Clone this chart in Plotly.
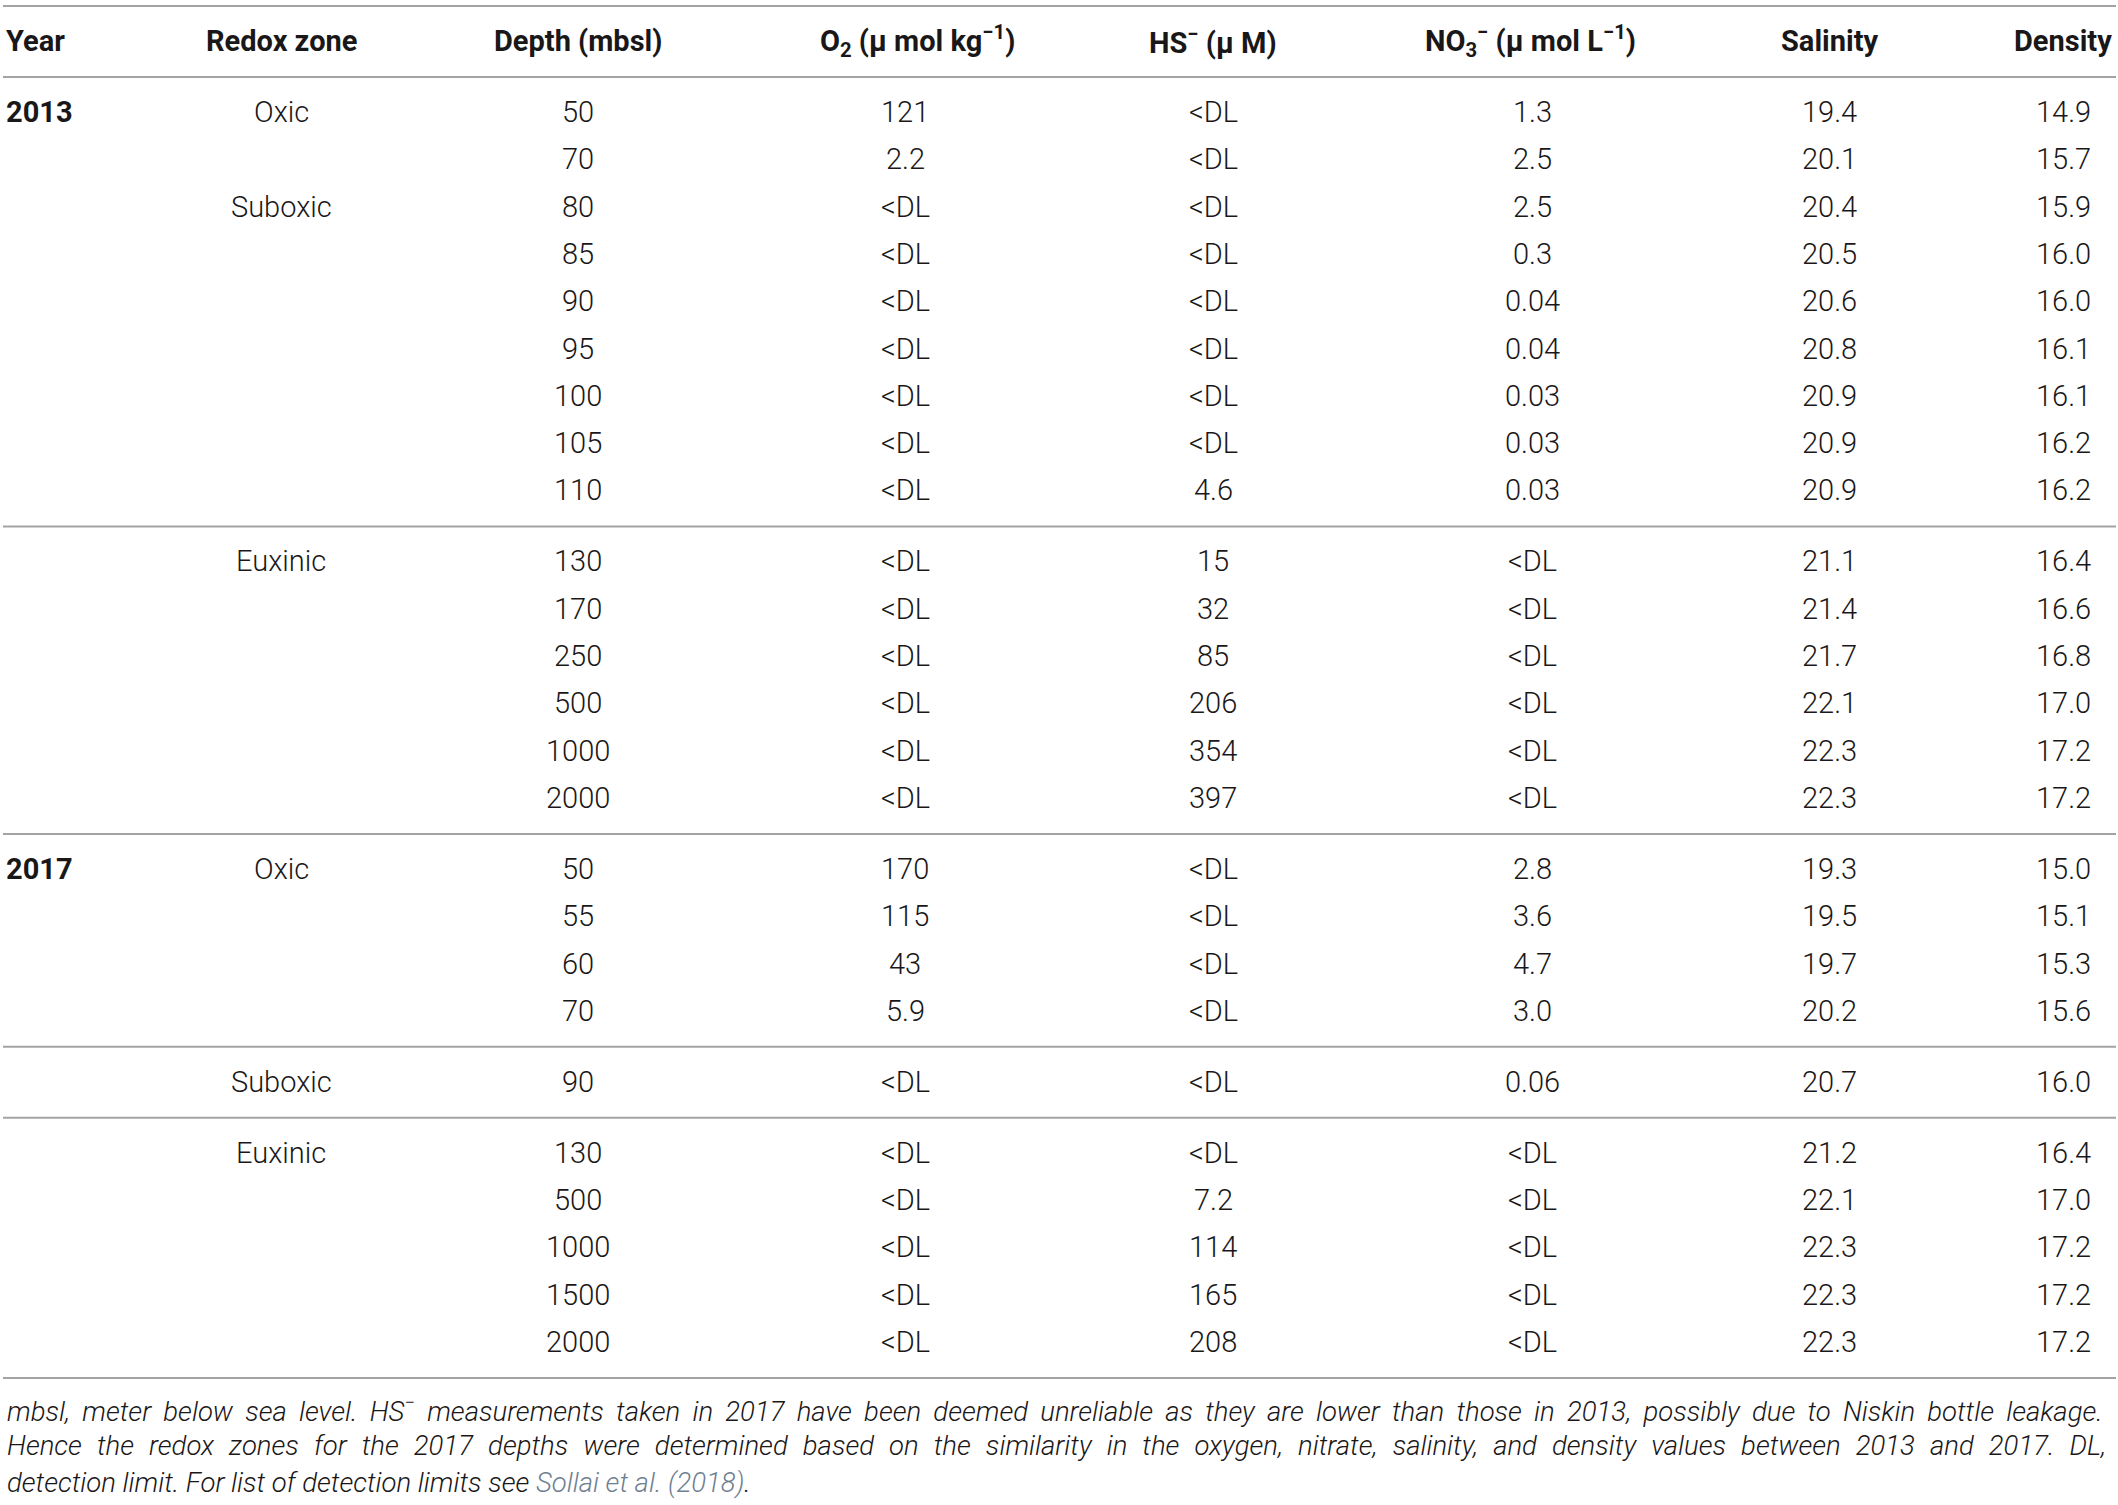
import plotly.graph_objects as go

# ---------------- data ----------------
headers = ["Year", "Redox zone", "Depth (mbsl)", "O<sub>2</sub> (\u03bc mol kg<sup>\u22121</sup>)",
           "HS<sup>\u2212</sup> (\u03bc M)", "NO<sub>3</sub><sup>\u2212</sup> (\u03bc mol L<sup>\u22121</sup>)",
           "Salinity", "Density"]

years = ["2013", "2013", "2017", "2017", "2017"]          # per group
zones = [["Oxic", "", "Suboxic", "", "", "", "", "", ""],
         ["Euxinic", "", "", "", "", ""],
         ["Oxic", "", "", ""],
         ["Suboxic"],
         ["Euxinic", "", "", "", ""]]
year_shown = [True, False, True, False, False]

depth = [["50", "70", "80", "85", "90", "95", "100", "105", "110"],
         ["130", "170", "250", "500", "1000", "2000"],
         ["50", "55", "60", "70"],
         ["90"],
         ["130", "500", "1000", "1500", "2000"]]
o2 = [["121", "2.2", "<DL", "<DL", "<DL", "<DL", "<DL", "<DL", "<DL"],
      ["<DL", "<DL", "<DL", "<DL", "<DL", "<DL"],
      ["170", "115", "43", "5.9"],
      ["<DL"],
      ["<DL", "<DL", "<DL", "<DL", "<DL"]]
hs = [["<DL", "<DL", "<DL", "<DL", "<DL", "<DL", "<DL", "<DL", "4.6"],
      ["15", "32", "85", "206", "354", "397"],
      ["<DL", "<DL", "<DL", "<DL"],
      ["<DL"],
      ["<DL", "7.2", "114", "165", "208"]]
no3 = [["1.3", "2.5", "2.5", "0.3", "0.04", "0.04", "0.03", "0.03", "0.03"],
       ["<DL", "<DL", "<DL", "<DL", "<DL", "<DL"],
       ["2.8", "3.6", "4.7", "3.0"],
       ["0.06"],
       ["<DL", "<DL", "<DL", "<DL", "<DL"]]
salinity = [["19.4", "20.1", "20.4", "20.5", "20.6", "20.8", "20.9", "20.9", "20.9"],
            ["21.1", "21.4", "21.7", "22.1", "22.3", "22.3"],
            ["19.3", "19.5", "19.7", "20.2"],
            ["20.7"],
            ["21.2", "22.1", "22.3", "22.3", "22.3"]]
density = [["14.9", "15.7", "15.9", "16.0", "16.0", "16.1", "16.1", "16.2", "16.2"],
           ["16.4", "16.6", "16.8", "17.0", "17.2", "17.2"],
           ["15.0", "15.1", "15.3", "15.6"],
           ["16.0"],
           ["16.4", "17.0", "17.2", "17.2", "17.2"]]

footer = [
    "mbsl, meter below sea level. HS<sup>\u2212</sup> measurements taken in 2017 have been deemed unreliable as they are lower than those in 2013, possibly due to Niskin bottle leakage.",
    "Hence the redox zones for the 2017 depths were determined based on the similarity in the oxygen, nitrate, salinity, and density values between 2013 and 2017. DL,",
    "detection limit. For list of detection limits see <span style='color:#6f7f92'>Sollai et al. (2018)</span>.",
]

# ---------------- layout ----------------
W, H = 2118, 1505
col_x = [6, 281, 578, 905, 1213, 1532, 1829, 2063]
head_x = [4, 281, 578, 917, 1213, 1530, 1829, 2063]
pitch = 47.3
TEXT = "#1a1718"
LINE = "#a3a3a3"
body_font = dict(family="Roboto", size=29, color=TEXT, weight=300)
head_font = dict(family="Roboto", size=29, color=TEXT, weight=700)

annotations = []
shapes = []

def hline(y):
    shapes.append(dict(type="line", xref="x", yref="y", x0=3, x1=W - 2, y0=y, y1=y,
                       line=dict(color=LINE, width=2)))

hline(6)
for i, h in enumerate(headers):
    annotations.append(dict(x=head_x[i], y=41, text=h, showarrow=False, xref="x", yref="y",
                            xanchor="left" if i == 0 else "center", yanchor="middle", font=head_font))
hline(77)

y_line = 77
for g in range(len(depth)):
    y0 = y_line + 35
    for r in range(len(depth[g])):
        y = y0 + r * pitch
        if r == 0 and year_shown[g]:
            annotations.append(dict(x=col_x[0] - 2, y=y, text=years[g], showarrow=False, xref="x", yref="y",
                                    xanchor="left", yanchor="middle", font=head_font))
        cells = [zones[g][r], depth[g][r], o2[g][r], hs[g][r], no3[g][r], salinity[g][r], density[g][r]]
        for c, t in enumerate(cells):
            if not t:
                continue
            annotations.append(dict(x=col_x[c + 1], y=y, text=t.replace("<", "&lt;"), showarrow=False,
                                    xref="x", yref="y", xanchor="center", yanchor="middle", font=body_font))
    y_line = y0 + (len(depth[g]) - 1) * pitch + 36
    hline(y_line)

# approximate the justified footer: widen the spaces of the two full lines
extra_space = ["\u2009", "\u2009\u200a", ""]
foot_font = dict(family="Roboto", size=27.5, color=TEXT, weight=300, style="italic")
for i, t in enumerate(footer):
    if extra_space[i]:
        t = t.replace(" ", " " + extra_space[i]).replace("<span" + " " + extra_space[i], "<span ")
    annotations.append(dict(x=5, y=y_line + 31 + i * 36.5, text=t, showarrow=False, xref="x", yref="y",
                            xanchor="left", yanchor="middle", font=foot_font))

fig = go.Figure()
fig.update_layout(
    width=W, height=H, margin=dict(l=0, r=0, t=0, b=0),
    paper_bgcolor="white", plot_bgcolor="white",
    xaxis=dict(range=[0, W], visible=False, fixedrange=True),
    yaxis=dict(range=[H, 0], visible=False, fixedrange=True),
    annotations=annotations, shapes=shapes, showlegend=False,
)
fig.write_html("out.html", config={"displayModeBar": False},
               post_script="document.body.style.margin='0';")
